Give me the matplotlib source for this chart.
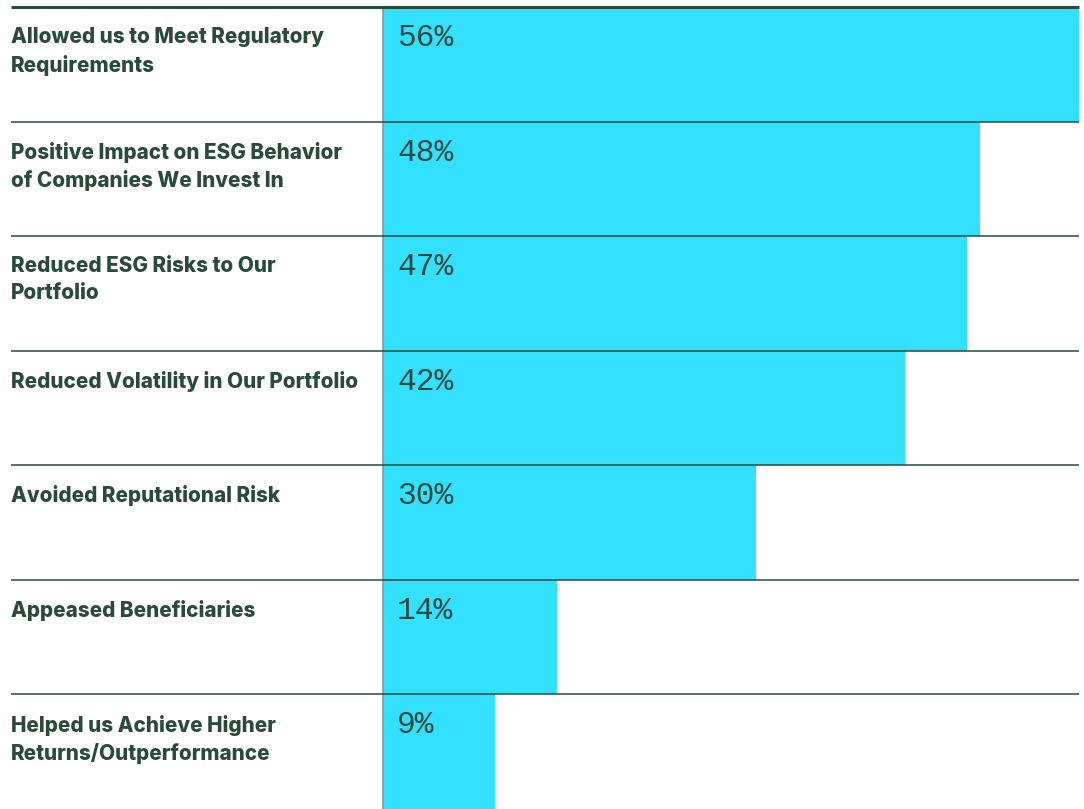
import numpy as np
import matplotlib
matplotlib.use("Agg")
import matplotlib.pyplot as plt
from matplotlib.transforms import blended_transform_factory

labels = ["Allowed us to Meet Regulatory\nRequirements",
          "Positive Impact on ESG Behavior\nof Companies We Invest In",
          "Reduced ESG Risks to Our\nPortfolio",
          "Reduced Volatility in Our Portfolio",
          "Avoided Reputational Risk",
          "Appeased Beneficiaries",
          "Helped us Achieve Higher\nReturns/Outperformance"]
values = [56, 48, 47, 42, 30, 14, 9]

W, H = 1084, 809
bar_col = "#33E0FF"
txt_col = "#2A4A3E"

fig = plt.figure(figsize=(W/100, H/100), dpi=100)
ax = fig.add_axes([383/W, 0, 696/W, 1 - 7/H])
n = len(values)
y = np.arange(n)
ax.barh(y, values, height=1.0, color=bar_col, linewidth=0)
ax.set_xlim(0, 56)
ax.set_ylim(n - 0.5, -0.5)
ax.axis("off")

tr = blended_transform_factory(fig.transFigure, ax.transData)
# separators
for i in range(n):
    b = i - 0.5
    lw = 2.2 if i == 0 else 1.1
    ax.plot([11/W, 1079/W], [b, b], transform=tr, color=txt_col,
            lw=lw, clip_on=False, solid_capstyle="butt", zorder=3)
# vertical axis line
ax.plot([0, 0], [-0.5, n - 0.5], color="#9a9a9a", lw=1.3, clip_on=False, zorder=2)

for i, (lab, v) in enumerate(zip(labels, values)):
    ax.annotate(lab, xy=(11/W, i - 0.5), xycoords=tr, xytext=(0, -14.5),
                textcoords="offset points", ha="left", va="top",
                fontsize=14.9, fontweight="heavy", family="Inter",
                color=txt_col, linespacing=1.45)
    ax.annotate("{}%".format(v), xy=(0, i - 0.5), xytext=(10, -11.5),
                textcoords="offset points", ha="left", va="top",
                fontsize=22.5, family="Liberation Mono", color=txt_col)

fig.savefig("out.png", dpi=100)
